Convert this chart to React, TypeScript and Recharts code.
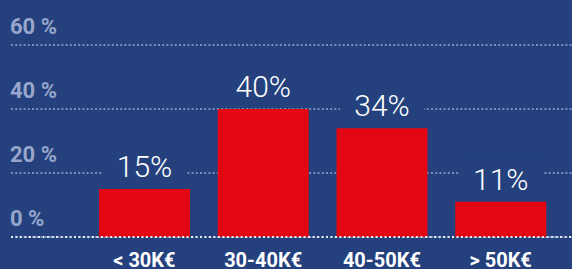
import { BarChart, Bar, XAxis, YAxis, CartesianGrid, LabelList } from 'recharts'

const BG = '#24417d'

const categories = ['< 30K€', '30-40K€', '40-50K€', '> 50K€']
const shares = [15, 40, 34, 11]
const yTicks = [0, 20, 40, 60]

const data = categories.map((name, i) => ({ name, share: shares[i] }))

function YTick(props: any) {
  const { y, payload } = props
  return (
    <text x={10} y={y - 11} fill="#98a6cb" fontSize={22} fontWeight={700} fontFamily="Roboto" textAnchor="start">
      {payload.value} %
    </text>
  )
}

function XTick(props: any) {
  const { x, y, payload } = props
  return (
    <text x={x} y={y + 22} fill="#ffffff" fontSize={20} fontWeight={700} fontFamily="Roboto" textAnchor="middle">
      {payload.value}
    </text>
  )
}

function ValueLabel(props: any) {
  const { x, y, width, value } = props
  const cx = x + width / 2
  return (
    <g>
      <rect x={cx - 42} y={y - 46} width={84} height={42} fill={BG} />
      <text x={cx} y={y - 12} fill="#ffffff" fontSize={30} fontWeight={300} fontFamily="Roboto" textAnchor="middle">
        {value}%
      </text>
    </g>
  )
}

export default function App() {
  return (
    <div style={{ position: 'absolute', left: 0, top: 0, width: 572, height: 269, background: BG, overflow: 'hidden' }}>
      <BarChart width={572} height={269} data={data} margin={{ top: 45, right: 0, bottom: 0, left: 0 }}>
        <CartesianGrid horizontal vertical={false} stroke="#7a8dbb" strokeWidth={2} strokeDasharray="2 2.2" />
        <XAxis
          dataKey="name"
          height={32}
          padding={{ left: 74, right: 12 }}
          axisLine={{ stroke: '#e6ebf5', strokeWidth: 2, strokeDasharray: '2 2.5' }}
          tickLine={false}
          tick={(p: any) => <XTick {...p} />}
          interval={0}
        />
        <YAxis
          width={11}
          domain={[0, 60]}
          ticks={yTicks}
          axisLine={false}
          tickLine={false}
          tick={(p: any) => <YTick {...p} />}
        />
        <Bar dataKey="share" fill="#e30613" barSize={91} isAnimationActive={false}>
          <LabelList dataKey="share" content={(p: any) => <ValueLabel {...p} />} />
        </Bar>
      </BarChart>
    </div>
  )
}
